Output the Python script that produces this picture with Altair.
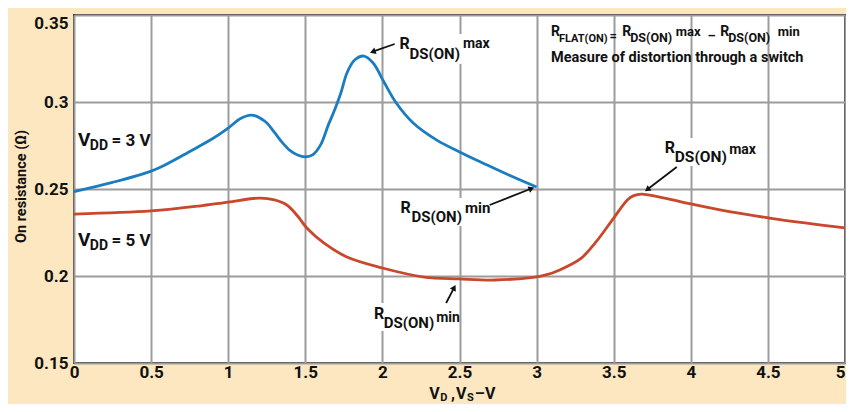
import altair as alt
import numpy as np
import pandas as pd

FONT = "Roboto, Liberation Sans, sans-serif"

# ---- data: VDD = 3 V (blue) ----
x3 = [0, 0.25, 0.5, 0.62, 0.745, 0.9, 1.0, 1.08, 1.15, 1.24, 1.30, 1.35, 1.40, 1.45,
      1.5, 1.55, 1.60, 1.65, 1.69, 1.73, 1.77, 1.82, 1.88, 1.94, 2.01, 2.09, 2.20,
      2.35, 2.50, 2.65, 2.82, 3.0]
r3 = [0.2485, 0.2538, 0.2603, 0.2652, 0.2713, 0.279, 0.285, 0.2905, 0.2925, 0.2888,
      0.2825, 0.2768, 0.2722, 0.2695, 0.2685, 0.2698, 0.2755, 0.2870, 0.2954, 0.305,
      0.3167, 0.3241, 0.3264, 0.3224, 0.3115, 0.2994, 0.2879, 0.2782, 0.2713, 0.265,
      0.258, 0.2511]

# ---- data: VDD = 5 V (orange) ----
x5 = [0, 0.5, 0.81, 1.0, 1.21, 1.30, 1.38, 1.45, 1.51, 1.62, 1.77, 2.0, 2.27, 2.5,
      2.73, 2.99, 3.06, 3.15, 3.29, 3.38, 3.5, 3.59, 3.63, 3.68, 3.83, 4.0, 4.26,
      4.51, 4.74, 5.0]
r5 = [0.2356, 0.2374, 0.2402, 0.2425, 0.2448, 0.2437, 0.2408, 0.2345, 0.2276, 0.219,
      0.2109, 0.2046, 0.1994, 0.1983, 0.1977, 0.1994, 0.2006, 0.2035, 0.2103, 0.219,
      0.2333, 0.2438, 0.2462, 0.2471, 0.2448, 0.2414, 0.2368, 0.2333, 0.2305, 0.2276]

series_names = ["3 V", "5 V"]
series_colors = ["#1a7dc0", "#c9472b"]

x_ticks = [0, 0.5, 1, 1.5, 2, 2.5, 3, 3.5, 4, 4.5, 5]
y_ticks = [0.15, 0.2, 0.25, 0.3, 0.35]

# ---- annotation text segments (reference-image pixel positions) ----
seg_x = [78, 90, 112,
         78, 90, 112,
         403, 413, 467,
         404, 415, 469,
         377, 387, 440,
         671, 681, 736,
         556, 564, 615, 628, 636, 682, 714, 727, 735, 785,
         556,
         433, 444, 455, 460, 471, 479]
seg_y = [146, 150, 146,
         246, 250, 246,
         49, 59, 48,
         213, 222, 213,
         319, 328, 322,
         153, 162, 154,
         36, 42, 40, 36, 42, 36, 40, 36, 42, 36,
         62,
         399, 401, 399, 399, 401, 399]
seg_text = ["V", "DD", "= 3 V",
            "V", "DD", "= 5 V",
            "R", "DS(ON)", "max",
            "R", "DS(ON)", "min",
            "R", "DS(ON)", "min",
            "R", "DS(ON)", "max",
            "R", "FLAT(ON)", "=", "R", "DS(ON)", "max", "\u2013", "R", "DS(ON)", "min",
            "Measure of distortion through a switch",
            "V", "D", ",", "V", "S", "\u2013V"]
seg_size = [19, 14, 17,
            19, 14, 17,
            16, 15, 14,
            16, 15, 15,
            16, 15, 14,
            16, 15.5, 14,
            14, 11, 13, 14, 12.5, 13, 13, 14, 12.5, 13,
            14.5,
            16, 11, 16, 16, 11, 16]

# white boxes behind labels (reference-image pixels)
box_x1 = [400, 401, 373, 667]
box_x2 = [494, 494, 462, 762]
box_y1 = [34, 198, 303, 138]
box_y2 = [64, 226, 331, 166]

# arrows (tail -> head, reference-image pixels)
arr_tx = [398, 494, 450, 683]
arr_ty = [44, 205, 303, 167]
arr_hx = [372, 540, 460, 650]
arr_hy = [53, 187, 284, 192]

# layout
REF_W = 779.0
PLOT_W, PLOT_H = 771, 348
OX, OY = 74, 15
KX = PLOT_W / REF_W


def px(v):
    return (np.array(v, float) - OX) * KX


def py(v):
    return np.array(v, float) - OY


lines_df = pd.concat([
    pd.DataFrame({"v": x3, "r": r3, "series": series_names[0]}),
    pd.DataFrame({"v": x5, "r": r5, "series": series_names[1]}),
])

segs = pd.DataFrame({"px": px(seg_x), "py": py(seg_y), "text": seg_text, "size": seg_size})
boxes = pd.DataFrame({"x1": px(box_x1), "x2": px(box_x2), "y1": py(box_y1), "y2": py(box_y2)})
tx, ty, hx, hy = px(arr_tx), py(arr_ty), px(arr_hx), py(arr_hy)
dx, dy = hx - tx, hy - ty
ln = np.hypot(dx, dy)
ux, uy = dx / ln, dy / ln
cx, cy = hx - ux * 4, hy - uy * 4
arrows = pd.DataFrame({
    "tx": tx, "ty": ty, "cx": cx, "cy": cy,
    "ang": (np.degrees(np.arctan2(dx, -dy)) + 360) % 360,
})

xaxis = alt.Axis(values=x_ticks, title=None,
                 labelExpr="format(datum.value, '.1~f')",
                 labelAlign=alt.condition("datum.value > 4.9", alt.value("right"), alt.value("center")),
                 labelPadding=1, labelBaseline="top")
yaxis = alt.Axis(values=y_ticks, title="On resistance (\u03a9)",
                 labelExpr="format(datum.value, '.2~f')",
                 labelBaseline=alt.condition("datum.value > 0.34", alt.value("top"), alt.value("middle")),
                 labelPadding=6,
                 titleX=-53, titleY=171, titleAngle=270, titleAlign="center",
                 titleBaseline="middle", titleFontSize=14.5, titleFont=FONT,
                 titleFontWeight="bold", titleColor="#111")

lines = alt.Chart(lines_df).mark_line(interpolate="catmull-rom", strokeWidth=2.8).encode(
    x=alt.X("v:Q", scale=alt.Scale(domain=[0, 5], nice=False, zero=False), axis=xaxis),
    y=alt.Y("r:Q", scale=alt.Scale(domain=[0.15, 0.35], nice=False, zero=False), axis=yaxis),
    color=alt.Color("series:N", scale=alt.Scale(domain=series_names, range=series_colors), legend=None),
)

rects = alt.Chart(boxes).mark_rect(fill="white").encode(
    x=alt.X("x1:Q", scale=None, axis=None), x2="x2:Q",
    y=alt.Y("y1:Q", scale=None, axis=None), y2="y2:Q",
)

rules = alt.Chart(arrows).mark_rule(color="#111", strokeWidth=1.8).encode(
    x=alt.X("tx:Q", scale=None, axis=None), x2="cx:Q",
    y=alt.Y("ty:Q", scale=None, axis=None), y2="cy:Q",
)
heads = alt.Chart(arrows).mark_point(shape="triangle-up", filled=True, size=45,
                                     color="#111", opacity=1).encode(
    x=alt.X("cx:Q", scale=None, axis=None),
    y=alt.Y("cy:Q", scale=None, axis=None),
    angle=alt.Angle("ang:Q", scale=None),
)

texts = alt.Chart(segs).mark_text(align="left", baseline="alphabetic", font=FONT,
                                  fontWeight="bold", color="#111").encode(
    x=alt.X("px:Q", scale=None, axis=None),
    y=alt.Y("py:Q", scale=None, axis=None),
    text="text:N",
    size=alt.Size("size:Q", scale=None, legend=None),
)

chart = alt.layer(rects, lines, rules, heads, texts).properties(
    width=PLOT_W, height=PLOT_H,
    autosize=alt.AutoSizeParams(type="none"),
    padding={"left": 66, "top": 7, "right": 1, "bottom": 41},
    background="#fde7c0",
).configure_view(
    stroke="#333333", strokeWidth=2, fill="white",
).configure_axis(
    grid=True, gridColor="#9c9c9c", gridWidth=2, gridOpacity=1,
    domain=False, ticks=False,
    labelFont=FONT, labelFontWeight="bold", labelFontSize=17, labelColor="#111",
)

chart.save("out.html", embed_options={"renderer": "svg", "actions": False})
